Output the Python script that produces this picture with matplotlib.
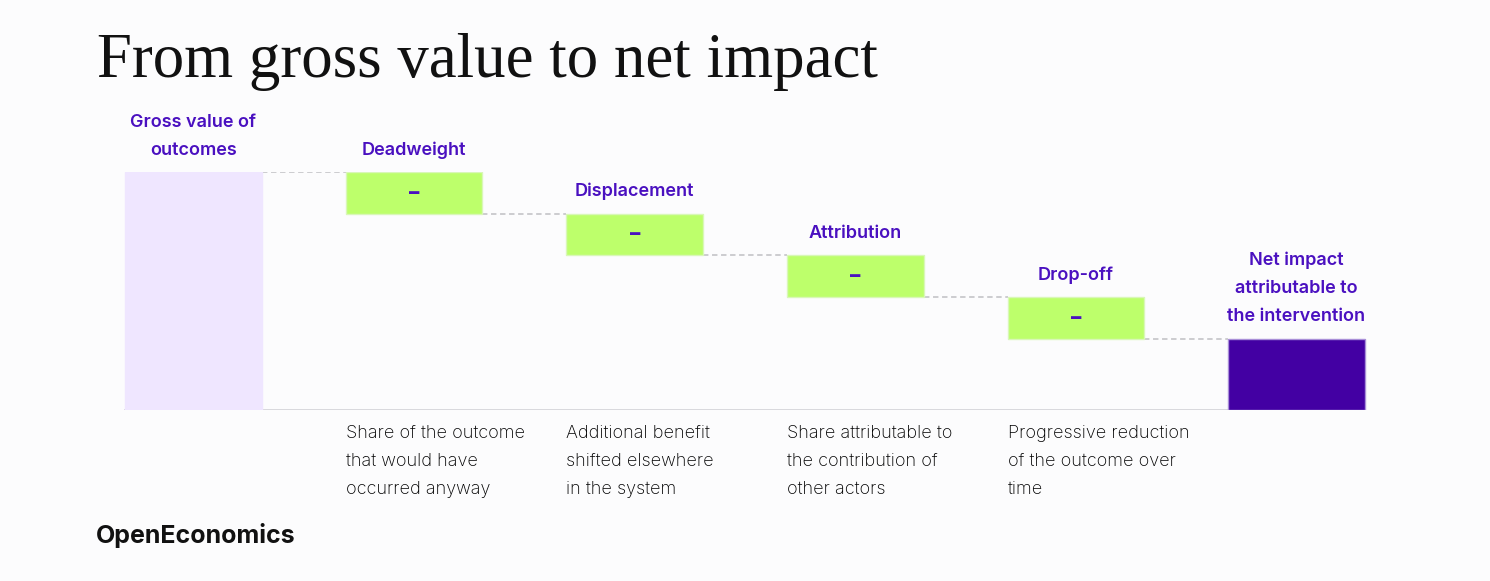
import matplotlib

matplotlib.use("Agg")
import matplotlib.pyplot as plt
import numpy as np

# waterfall steps, in share of gross value (gross = 100)
STEPS = ["Gross value of\noutcomes", "Deadweight", "Displacement",
         "Attribution", "Drop-off", "Net impact\nattributable to\nthe intervention"]
VALUES = [100, -17.5, -17.5, -17.5, -17.5, 30]
KINDS = ["total", "step", "step", "step", "step", "total"]
SIGNS = ["", "–", "–", "–", "–", ""]
NOTES = ["",
         "Share of the outcome\nthat would have\noccurred anyway",
         "Additional benefit\nshifted elsewhere\nin the system",
         "Share attributable to\nthe contribution of\nother actors",
         "Progressive reduction\nof the outcome over\ntime",
         ""]

BG = "#fcfcfd"
PURPLE = "#4a10c0"
GROSS = "#efe6ff"
GREEN = "#bdff6b"
NET = "#4300a3"
SANS = ["Inter", "DejaVu Sans"]

fig = plt.figure(figsize=(14.9, 5.81), dpi=100, facecolor=BG)
ax = fig.add_axes([83.2 / 1490, 171 / 581, 1323.6 / 1490, 238 / 581])
ax.set_facecolor(BG)

xs = np.arange(len(STEPS))
width = 0.62
bottoms, tops = [], []
level = 0.0
for v, k in zip(VALUES, KINDS):
    if k == "total":
        bottoms.append(0.0)
        tops.append(v)
        level = v
    else:
        bottoms.append(level + v)
        tops.append(level)
        level += v

colors = [GROSS, GREEN, GREEN, GREEN, GREEN, NET]
edges = [GROSS, "#d9f7b8", "#d9f7b8", "#d9f7b8", "#d9f7b8", "#a98fd8"]
for i in xs:
    ax.bar(xs[i], tops[i] - bottoms[i], bottom=bottoms[i], width=width,
           color=colors[i], edgecolor=edges[i], linewidth=1.0, zorder=2)

# connectors between bars
for i in xs[:-1]:
    lvl = bottoms[i] if KINDS[i] == "step" else tops[i]
    ax.plot([xs[i] + width / 2, xs[i + 1] - width / 2], [lvl, lvl],
            color="#c8c8cc", lw=1.3, ls=(0, (3, 2)), zorder=1)

ax.plot([xs[0] - width / 2, xs[-1] + width / 2], [0, 0], color="#d6d6da", lw=1.3, zorder=1)

for i in xs:
    ax.annotate(STEPS[i], (xs[i], tops[i]), xytext=(0, 9.5), textcoords="offset points",
                ha="center", va="bottom", fontsize=13, color=PURPLE, family=SANS,
                weight="semibold", linespacing=1.85)
    if SIGNS[i]:
        ax.text(xs[i], (tops[i] + bottoms[i]) / 2, SIGNS[i], ha="center", va="center",
                fontsize=15, weight="heavy", color=PURPLE, family=SANS)
    if NOTES[i]:
        ax.annotate(NOTES[i], (xs[i] - width / 2, 0), xytext=(0, -10.5),
                    textcoords="offset points", ha="left", va="top", fontsize=13,
                    color="#000000", family=SANS, weight="light", linespacing=1.85)

ax.set_xlim(-0.5, len(STEPS) - 0.5)
ax.set_ylim(0, 100)
ax.axis("off")

fig.text(97 / 1490, 1 - 77 / 581, "From gross value to net impact", ha="left", va="baseline",
         fontsize=45.3, family=["Liberation Serif", "DejaVu Serif"], color="#111111")
fig.text(96 / 1490, 1 - 543 / 581, "OpenEconomics", ha="left", va="baseline",
         fontsize=18, family=SANS, weight="bold", color="#111111")

fig.savefig("out.png", dpi=100, facecolor=BG)
